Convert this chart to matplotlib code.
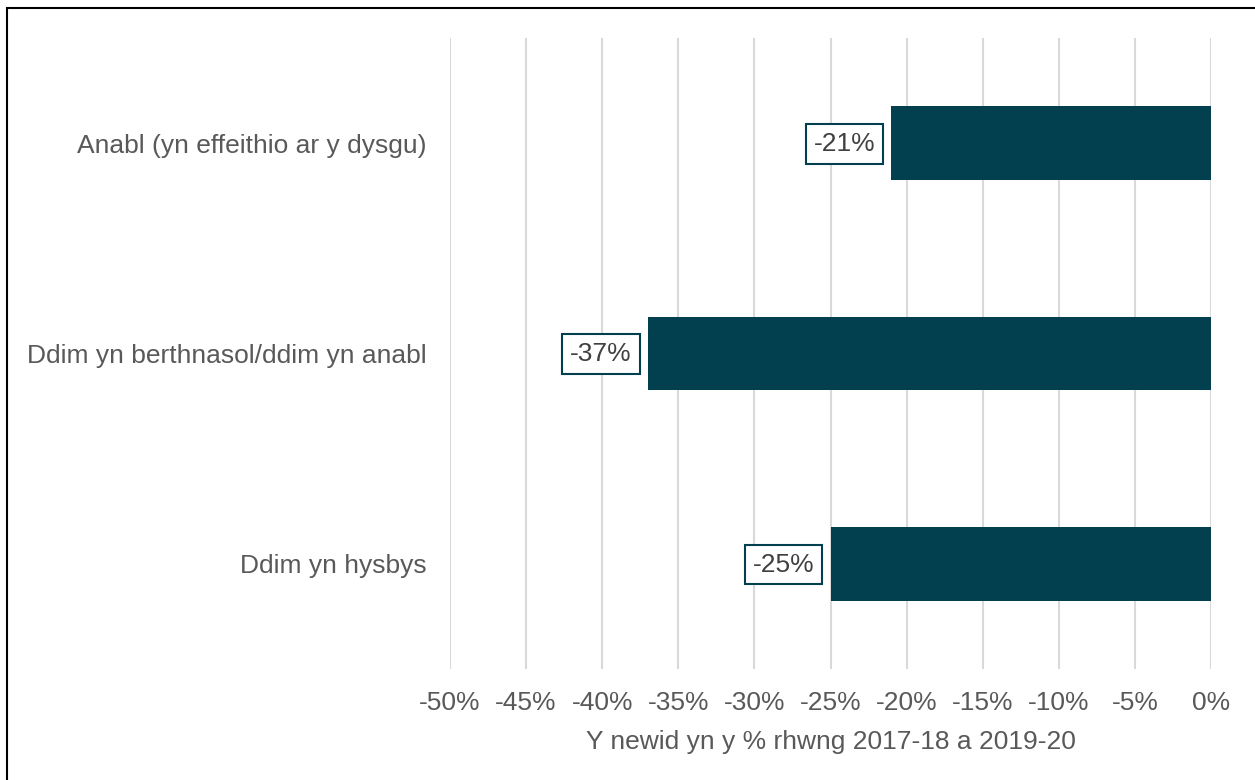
import matplotlib.pyplot as plt
from matplotlib.patches import Rectangle
from matplotlib import ticker

plt.rcParams["font.family"] = ["Liberation Sans", "DejaVu Sans"]

categories = [
    "Anabl (yn effeithio ar y dysgu)",
    "Ddim yn berthnasol/ddim yn anabl",
    "Ddim yn hysbys",
]
values = [-21, -37, -25]
x_ticks = [-50, -45, -40, -35, -30, -25, -20, -15, -10, -5, 0]
x_label = "Y newid yn y % rhwng 2017-18 a 2019-20"

bar_colour = "#024050"
text_colour = "#595959"
grid_colour = "#D9D9D9"

fig = plt.figure(figsize=(12.55, 7.8), dpi=100)
ax = fig.add_axes([450 / 1255, 1 - 669 / 780, (1211 - 450) / 1255, (669 - 38) / 780])

ypos = list(range(len(categories)))
ax.barh(ypos, values, height=0.35, color=bar_colour, zorder=3)

for y, v in zip(ypos, values):
    ax.annotate(
        f"{v}%",
        xy=(v, y),
        xytext=(-11.5, -0.5),
        textcoords="offset points",
        ha="right",
        va="center",
        fontsize=19,
        color="#404040",
        bbox=dict(boxstyle="square,pad=0.3", fc="white", ec=bar_colour, lw=1.5),
        zorder=4,
    )

ax.set_xlim(-50, 0)
ax.set_ylim(2.5, -0.5)
ax.set_xticks(x_ticks)
ax.xaxis.set_major_formatter(ticker.FuncFormatter(lambda x, _: f"{x:.0f}%"))
ax.set_yticks(ypos, labels=categories)

ax.grid(axis="x", color=grid_colour, linewidth=1.5, zorder=0)
ax.set_axisbelow(True)
for s in ax.spines.values():
    s.set_visible(False)

ax.tick_params(axis="both", length=0, labelsize=19, labelcolor=text_colour)
ax.tick_params(axis="x", pad=15.5)
ax.tick_params(axis="y", pad=17)
ax.set_xlabel(x_label, fontsize=19, color=text_colour, labelpad=11)

# chart border (only top and left edges fall inside the image)
fig.patches.append(
    Rectangle((7 / 1255, -0.05), 1.2, 1.05 - 8 / 780, transform=fig.transFigure,
              fill=False, ec="black", lw=1.5, zorder=10)
)

fig.savefig("out.png", dpi=100)
